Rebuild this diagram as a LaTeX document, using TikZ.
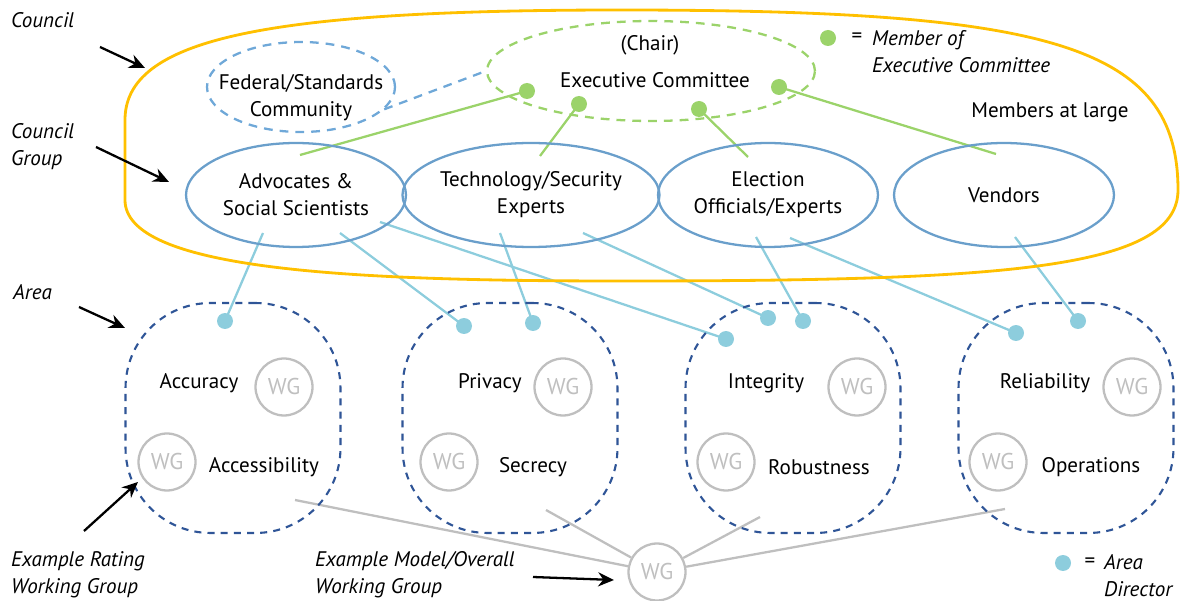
\documentclass[tikz,border=0pt]{standalone}
\usepackage{fontspec}
\setmainfont{PT Sans}
\usetikzlibrary{shapes.geometric, positioning, backgrounds, arrows.meta}

\definecolor{councilorange}{HTML}{FFC000}
\definecolor{groupblue}{HTML}{6A9FCB}
\definecolor{fedblue}{HTML}{6FA8D8}
\definecolor{execgreen}{HTML}{9BD36A}
\definecolor{areablue}{HTML}{2F5597}
\definecolor{dirblue}{HTML}{8DCDDD}
\definecolor{wggray}{HTML}{BFBFBF}

\begin{document}
\begin{tikzpicture}[x=0.02cm,y=-0.02cm,
    font=\fontsize{12}{15.3}\selectfont,
    group node/.style={ellipse,draw=groupblue,line width=1.3pt,minimum width=4.4cm,minimum height=2.08cm,align=center,inner sep=0pt},
    area node/.style={draw=areablue,line width=1.2pt,dash pattern=on 4pt off 3.5pt,rounded corners=1.7cm,minimum width=4.3cm,minimum height=4.6cm},
    wg node/.style={circle,draw=wggray,text=wggray,line width=1.3pt,minimum size=1.14cm,inner sep=0pt,font=\fontsize{13}{15}\selectfont},
    exec dot/.style={circle,fill=execgreen,minimum size=0.32cm,inner sep=0pt},
    dir dot/.style={circle,fill=dirblue,minimum size=0.32cm,inner sep=0pt},
    exec line/.style={draw=execgreen,line width=1.3pt},
    dir line/.style={draw=dirblue,line width=1.3pt},
    wg line/.style={draw=wggray,line width=1.3pt},
    note/.style={font=\fontsize{12}{15.3}\selectfont\itshape,align=left},
    pointer/.style={-{Stealth[length=9pt,width=8pt]},line width=1.3pt}]

\useasboundingbox (0,0) rectangle (1181,601);

% council outline
\draw[councilorange,line width=1.6pt] (125,200) -- (125,120)
   .. controls (125,40) and (260,10) .. (620,10)
   .. controls (1050,10) and (1178,45) .. (1178,190)
   .. controls (1178,270) and (1000,281) .. (620,281)
   .. controls (350,281) and (125,270) .. (125,200) -- cycle;

% federal and executive committee
\node[ellipse,draw=fedblue,line width=1.3pt,dash pattern=on 5pt off 4pt,minimum width=3.76cm,minimum height=1.8cm] (fed) at (301,87) {};
\node[align=center] (fedtext) at (301,98) {Federal/Standards\\Community};
\node[ellipse,draw=execgreen,line width=1.3pt,dash pattern=on 5pt off 4pt,minimum width=6.56cm,minimum height=2.0cm] (exec) at (651,71) {};
\node (chair) at (650,45) {(Chair)};
\node (exectext) at (655,80) {Executive Committee};

% council groups
\node[group node] (adv) at (296,195) {Advocates \&\\Social Scientists};
\node[group node] (tech) at (531,195) {Technology/Security\\Experts};
\node[group node] (elec) at (768,195) {Election\\Officials/Experts};
\node[group node] (vend) at (1004,195) {Vendors};
\node (large) at (1050,112) {Members at large};

% areas
\foreach \n/\cx/\ta/\tb/\la/\wa/\wb/\lb in
   {a1/233/Accuracy/Accessibility/199/284/167/264,
    a2/510/Privacy/Secrecy/490/563/449/533,
    a3/793/Integrity/Robustness/766/857/726/819,
    a4/1066/Reliability/Operations/1045/1132/998/1091}
  {\node[area node] (\n) at (\cx,418) {};
   \node (\n-top) at (\la,383) {\ta};
   \node[wg node] (\n-wgt) at (\wa,387) {WG};
   \node[wg node] (\n-wgb) at (\wb,462) {WG};
   \node (\n-bot) at (\lb,467) {\tb};}

\node[wg node] (wgall) at (657,572) {WG};

% members of executive committee
\node[exec dot] (g1) at (527,91) {};
\node[exec dot] (g2) at (579,104) {};
\node[exec dot] (g3) at (699,109) {};
\node[exec dot] (g4) at (779,87) {};

% area directors
\node[dir dot] (d1) at (225,321) {};
\node[dir dot] (d2) at (464,326) {};
\node[dir dot] (d3) at (533,323) {};
\node[dir dot] (d4) at (726,339) {};
\node[dir dot] (d5) at (768,318) {};
\node[dir dot] (d6) at (803,321) {};
\node[dir dot] (d7) at (1016,333) {};
\node[dir dot] (d8) at (1078,321) {};

% line ends inside the groups and areas
\coordinate (adv-n) at ([shift={(4,-40)}]adv.center);
\coordinate (tech-n) at ([shift={(9,-39)}]tech.center);
\coordinate (elec-n) at ([shift={(-20,-38)}]elec.center);
\coordinate (vend-n) at ([shift={(-8,-41)}]vend.center);
\coordinate (adv-s1) at ([shift={(-33,38)}]adv.center);
\coordinate (adv-s2) at ([shift={(44,38)}]adv.center);
\coordinate (adv-s3) at ([shift={(84,27)}]adv.center);
\coordinate (tech-s1) at ([shift={(-31,38)}]tech.center);
\coordinate (tech-s2) at ([shift={(52,38)}]tech.center);
\coordinate (elec-s1) at ([shift={(-12,42)}]elec.center);
\coordinate (elec-s2) at ([shift={(22,43)}]elec.center);
\coordinate (vend-s) at ([shift={(11,42)}]vend.center);
\coordinate (a1-s) at ([shift={(62,82)}]a1.center);
\coordinate (a2-s) at ([shift={(36,92)}]a2.center);
\coordinate (a3-s) at ([shift={(-33,99)}]a3.center);
\coordinate (a4-s) at ([shift={(-61,91)}]a4.center);

\begin{scope}[on background layer]
  \draw[fedblue,line width=1.3pt,dash pattern=on 5pt off 4pt] (fed.345) -- (exec.west);
  \foreach \a/\b in {g1/adv-n, g2/tech-n, g3/elec-n, g4/vend-n}
    \draw[exec line] (\a.center) -- (\b);
  \foreach \a/\b in {d1/adv-s1, d2/adv-s2, d4/adv-s3, d3/tech-s1,
                     d5/tech-s2, d6/elec-s1, d7/elec-s2, d8/vend-s}
    \draw[dir line] (\a.center) -- (\b);
  \foreach \a in {a1-s, a2-s, a3-s, a4-s}
    \draw[wg line] (\a) -- (wgall);
\end{scope}

% legends
\node[exec dot] (gkey) at (828,38) {};
\node (gkeyeq) at (857,38) {=};
\node[note,anchor=west] (gkeytext) at (866,52) {Member of\\Executive Committee};
\node[dir dot] (dkey) at (1063,563) {};
\node (dkeyeq) at (1090,563) {=};
\node[note,anchor=west] (dkeytext) at (1098,576) {Area\\Director};

% side labels
\node[note,anchor=west] (lcouncil) at (5,20) {Council};
\node[note,anchor=west] (lgroup) at (5,147) {Council\\Group};
\node[note,anchor=west] (larea) at (7,292) {Area};
\node[note,anchor=west] (lrating) at (5,575) {Example Rating\\Working Group};
\node[note,anchor=west] (lmodel) at (309,575) {Example Model/Overall\\Working Group};

\coordinate (c-from) at (100,47);   \coordinate (c-to) at (145,68);
\coordinate (g-from) at (96,147);   \coordinate (g-to) at (169,182);
\coordinate (ar-from) at (79,307);  \coordinate (ar-to) at (125,328);
\coordinate (r-from) at (84,531);   \coordinate (r-to) at (138,482);
\coordinate (m-from) at (533,577);  \coordinate (m-to) at (614,580);
\foreach \a in {c, g, ar, r, m}
  \draw[pointer] (\a-from) -- (\a-to);

\end{tikzpicture}
\end{document}
